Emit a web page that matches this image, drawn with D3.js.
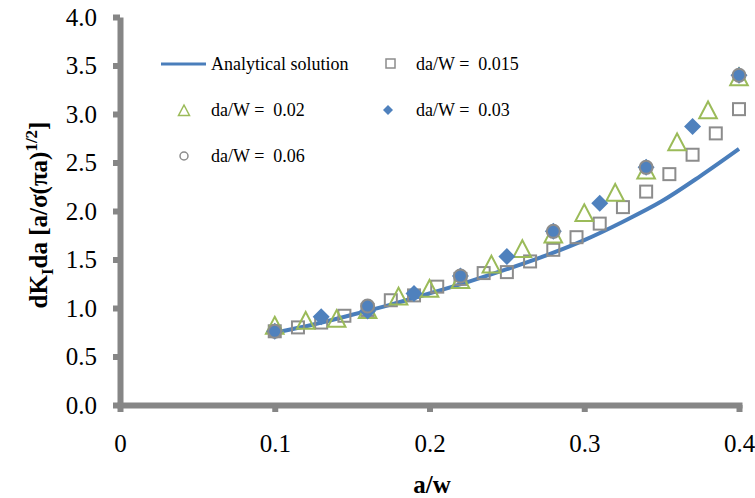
<!DOCTYPE html>
<html><head><meta charset="utf-8">
<script src="https://cdn.jsdelivr.net/npm/d3@7"></script>
<style>body{margin:0;background:#fff}svg{display:block}text{font-family:"Liberation Serif","Times New Roman",serif}</style>
</head><body><svg id="c" width="755" height="498"></svg>
<script>
// ---- data ----
const xTicks = [0, 0.1, 0.2, 0.3, 0.4];
const xTickLabels = ["0", "0.1", "0.2", "0.3", "0.4"];
const yTicks = [0, 0.5, 1, 1.5, 2, 2.5, 3, 3.5, 4];
const yTickLabels = ["0.0", "0.5", "1.0", "1.5", "2.0", "2.5", "3.0", "3.5", "4.0"];

const analyticX = [0.1, 0.125, 0.15, 0.175, 0.2, 0.225, 0.25, 0.275, 0.3, 0.325, 0.35, 0.375, 0.4];
const analyticY = [0.745, 0.83, 0.93, 1.035, 1.15, 1.27, 1.40, 1.54, 1.70, 1.89, 2.10, 2.36, 2.64];

const sq015X = [0.1, 0.115, 0.13, 0.145, 0.16, 0.175, 0.19, 0.205, 0.22, 0.235, 0.25, 0.265, 0.28, 0.295, 0.31, 0.325, 0.34, 0.355, 0.37, 0.385, 0.4];
const sq015Y = [0.76, 0.80, 0.85, 0.92, 0.98, 1.08, 1.13, 1.22, 1.30, 1.36, 1.37, 1.48, 1.60, 1.73, 1.87, 2.04, 2.20, 2.38, 2.58, 2.80, 3.05];

const tri02X = [0.1, 0.12, 0.14, 0.16, 0.18, 0.2, 0.22, 0.24, 0.26, 0.28, 0.3, 0.32, 0.34, 0.36, 0.38, 0.4];
const tri02Y = [0.81, 0.86, 0.88, 0.97, 1.11, 1.19, 1.28, 1.44, 1.60, 1.75, 1.97, 2.18, 2.41, 2.70, 3.03, 3.37];

const dia03X = [0.1, 0.13, 0.16, 0.19, 0.22, 0.25, 0.28, 0.31, 0.34, 0.37, 0.4];
const dia03Y = [0.76, 0.91, 0.97, 1.15, 1.33, 1.53, 1.79, 2.08, 2.45, 2.87, 3.40];

const cir06X = [0.1, 0.16, 0.22, 0.28, 0.34, 0.4];
const cir06Y = [0.76, 1.02, 1.33, 1.79, 2.45, 3.40];

const legendLabels = ["Analytical solution", "da/W =  0.015", "da/W =  0.02", "da/W =  0.03", "da/W =  0.06"];

// ---- chart ----
const svg = d3.select("#c");
const x = d3.scaleLinear().domain([0, 0.4]).range([120, 739]);
const y = d3.scaleLinear().domain([0, 4]).range([405, 17]);
const axisColor = "#868686";
const blue = "#4a7ebb", green = "#9bbb59", gray = "#8c8c8c", fillBlue = "#4f81bd";

// axes
const yAxis = d3.axisLeft(y).tickValues(yTicks).tickFormat((d, i) => yTickLabels[i]).tickSize(7).tickSizeOuter(0).tickPadding(16);
const xAxis = d3.axisBottom(x).tickValues(xTicks).tickFormat((d, i) => xTickLabels[i]).tickSize(7).tickSizeOuter(0).tickPadding(22);

const gy = svg.append("g").attr("transform", "translate(120,0)").call(yAxis);
const gx = svg.append("g").attr("transform", "translate(0,405)").call(xAxis);
[gx, gy].forEach(g => {
  g.select(".domain").attr("stroke", axisColor).attr("stroke-width", 6);
  g.selectAll(".tick line").attr("stroke", axisColor).attr("stroke-width", 6);
  g.selectAll(".tick text").attr("fill", "#000").style("font-size", "25px").style("font-family", '"Liberation Serif", serif');
});
gx.select(".domain").attr("stroke-linecap", "square");

// analytical curve
const lineGen = d3.line().x((d, i) => x(analyticX[i])).y(d => y(d)).curve(d3.curveCatmullRom);
svg.append("path").datum(analyticY).attr("d", lineGen).attr("fill", "none").attr("stroke", blue).attr("stroke-width", 4);

// markers
const sqS = 12;
svg.append("g").selectAll("rect").data(sq015Y).join("rect")
  .attr("x", (d, i) => x(sq015X[i]) - sqS / 2).attr("y", d => y(d) - sqS / 2)
  .attr("width", sqS).attr("height", sqS).attr("fill", "none").attr("stroke", gray).attr("stroke-width", 2);

const triPath = (cx, cy, s) => `M${cx},${cy - s * 0.6}L${cx + s * 0.55},${cy + s * 0.45}L${cx - s * 0.55},${cy + s * 0.45}Z`;
svg.append("g").selectAll("path").data(tri02Y).join("path")
  .attr("d", (d, i) => triPath(x(tri02X[i]), y(d), 16))
  .attr("fill", "none").attr("stroke", green).attr("stroke-width", 2);

const diaPath = (cx, cy, r) => `M${cx},${cy - r}L${cx + r},${cy}L${cx},${cy + r}L${cx - r},${cy}Z`;
svg.append("g").selectAll("path").data(dia03Y).join("path")
  .attr("d", (d, i) => diaPath(x(dia03X[i]), y(d), 8.5))
  .attr("fill", fillBlue);

svg.append("g").selectAll("circle").data(cir06Y).join("circle")
  .attr("cx", (d, i) => x(cir06X[i])).attr("cy", d => y(d)).attr("r", 6.5)
  .attr("fill", fillBlue).attr("stroke", gray).attr("stroke-width", 2);

// legend
const lg = svg.append("g").style("font-size", "18px");
lg.append("line").attr("x1", 161).attr("x2", 206).attr("y1", 64).attr("y2", 64).attr("stroke", blue).attr("stroke-width", 3);
lg.append("rect").attr("x", 386).attr("y", 59).attr("width", 9).attr("height", 9).attr("fill", "none").attr("stroke", gray).attr("stroke-width", 1.5);
lg.append("path").attr("d", triPath(184, 111, 10)).attr("fill", "none").attr("stroke", green).attr("stroke-width", 1.5);
lg.append("path").attr("d", diaPath(388, 110, 5)).attr("fill", fillBlue);
lg.append("circle").attr("cx", 184).attr("cy", 156).attr("r", 4).attr("fill", "none").attr("stroke", gray).attr("stroke-width", 1.5);
const legPos = [[211, 64], [416, 64], [211, 110], [416, 110], [211, 156]];
legendLabels.forEach((t, i) => {
  lg.append("text").attr("x", legPos[i][0]).attr("y", legPos[i][1]).attr("dy", "0.35em")
    .attr("xml:space", "preserve").style("white-space", "pre").text(t);
});

// axis titles
svg.append("text").attr("x", 432).attr("y", 484).attr("dy", "0.35em").attr("text-anchor", "middle")
  .style("font-size", "25px").style("font-weight", "bold").text("a/w");

const yt = svg.append("text").attr("transform", "translate(38,215) rotate(-90)").attr("text-anchor", "middle")
  .attr("dy", "0.35em").style("font-size", "25px").style("font-weight", "bold");
yt.append("tspan").text("dK");
yt.append("tspan").attr("dy", "6").style("font-size", "17px").text("I");
yt.append("tspan").attr("dy", "-6").text("da [a/σ(πa)");
yt.append("tspan").attr("dy", "-10").style("font-size", "17px").text("1/2");
yt.append("tspan").attr("dy", "10").text("]");
</script></body></html>
